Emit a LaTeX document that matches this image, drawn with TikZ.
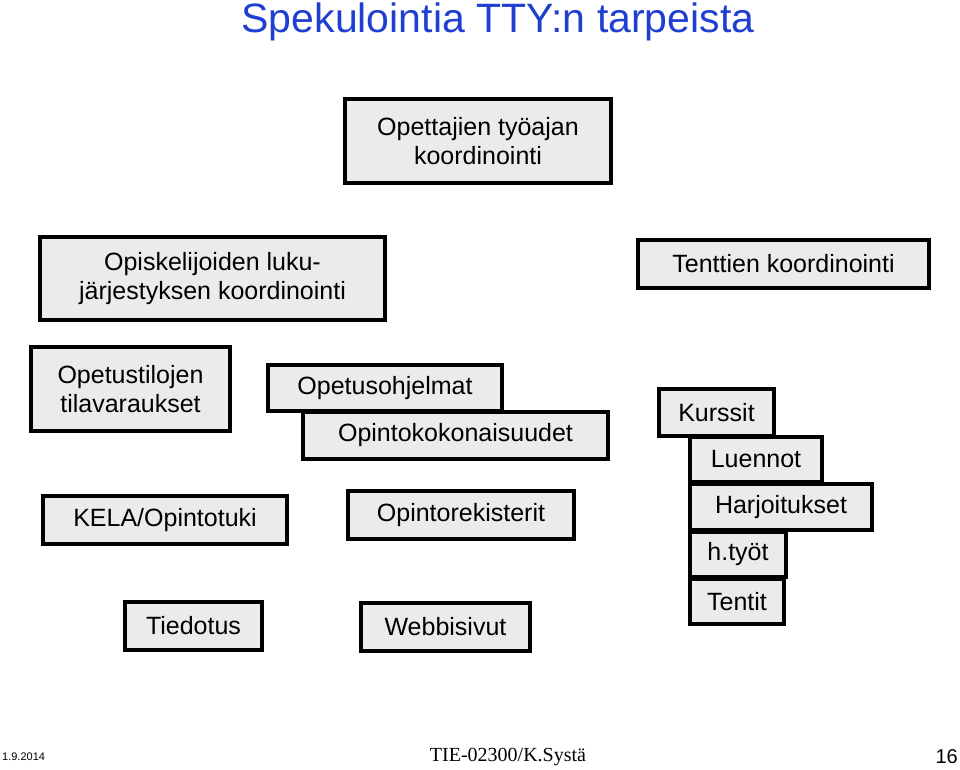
\documentclass[tikz,border=0pt]{standalone}
\usepackage{fontspec}
\setmainfont{Liberation Sans}
\newfontfamily\timesf{Liberation Serif}
\definecolor{boxgray}{HTML}{EBEBEB}
\definecolor{titleblue}{HTML}{1F3FD0}
\tikzset{bx/.style={draw=black,line width=3.2pt,fill=boxgray,inner sep=0pt,align=center,font=\fontsize{25}{29}\selectfont}}
\newcommand{\bxn}[6]{\node[bx,minimum width={(#4-#2)*1pt},minimum height={(#5-#3)*1pt}] (#1) at ({(#2+#4)/2},{(#3+#5)/2}) {#6};}
\begin{document}
\begin{tikzpicture}[x=1pt,y=-1pt]
\useasboundingbox (0,0) rectangle (960,769);
\node[text=titleblue,font=\fontsize{41}{48}\selectfont] (title) at (498,22) {Spekulointia TTY:n tarpeista};
\bxn{a}{345}{99}{611}{183}{Opettajien työajan\\koordinointi}
\bxn{b}{40}{237}{385}{320}{Opiskelijoiden luku-\\järjestyksen koordinointi}
\bxn{c}{638}{240}{929}{288}{Tenttien koordinointi}
\bxn{d}{31}{347}{230}{431}{Opetustilojen\\tilavaraukset}
\bxn{e}{268}{365}{502}{411}{Opetusohjelmat}
\bxn{f}{303}{412}{608}{459}{Opintokokonaisuudet}
\bxn{g}{659}{389}{774}{436}{Kurssit}
\bxn{h}{690}{437}{822}{482}{Luennot}
\bxn{i}{690}{484}{872}{530}{Harjoitukset}
\bxn{j}{690}{532}{786}{577}{h.työt}
\bxn{k}{690}{579}{784}{624}{Tentit}
\bxn{l}{43}{496}{287}{544}{KELA/Opintotuki}
\bxn{m}{348}{491}{574}{539}{Opintorekisterit}
\bxn{n}{125}{602}{262}{650}{Tiedotus}
\bxn{o}{361}{603}{530}{651}{Webbisivut}
\node[anchor=west,font=\fontsize{11}{13}\selectfont,inner sep=0pt] (date) at (2,757) {1.9.2014};
\node[font=\timesf\fontsize{20}{24}\selectfont,inner sep=0pt] (foot) at (508,757) {TIE-02300/K.Systä};
\node[anchor=east,font=\fontsize{20}{24}\selectfont,inner sep=0pt] (pg) at (958,757) {16};
\end{tikzpicture}
\end{document}
